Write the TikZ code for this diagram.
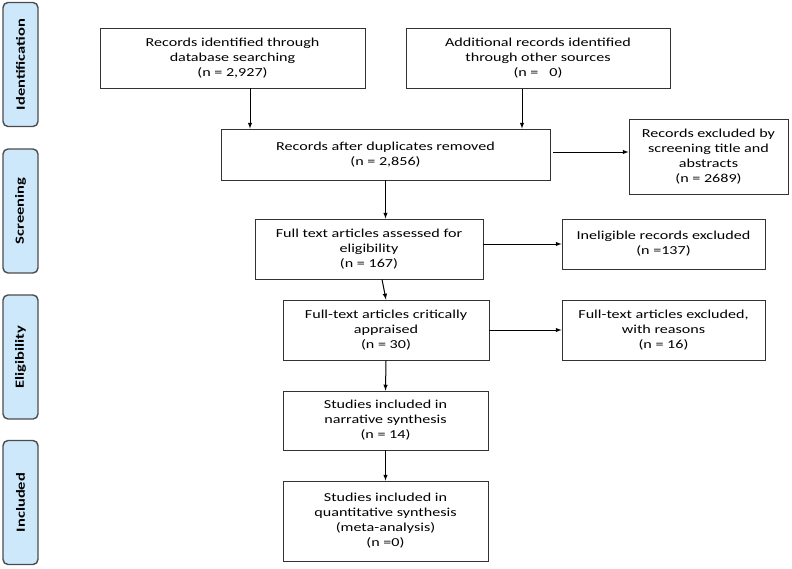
\documentclass[tikz,border=0pt]{standalone}
\usepackage{fontspec}
\setmainfont[FakeStretch=1.32]{Carlito}
\usepackage{tikz}
\usetikzlibrary{arrows,positioning,calc}
\definecolor{phaseblue}{RGB}{205,231,251}

\begin{document}
\begin{tikzpicture}[->,>=latex,x=1pt,y=-1pt,line width=1pt,
  box/.style={rectangle,draw=black!80,line width=0.9pt,fill=white,align=center,
    inner sep=0pt,font=\fontsize{12.2}{15}\selectfont},
  phase/.style={rectangle,rounded corners=5pt,draw=black!70,line width=1.4pt,
    fill=phaseblue,rotate=90,inner sep=0pt,minimum width=124pt,minimum height=35pt,
    font=\fontsize{12.5}{15}\selectfont\bfseries}]
  \useasboundingbox (0,0) rectangle (792,568);

  % phases on the left
  \node[phase] (ident) at (20.5,64.5) {Identification};
  \node[phase] (screen) at (20.5,211) {Screening};
  \node[phase] (elig) at (20.5,357) {Eligibility};
  \node[phase] (incl) at (20.5,502.5) {Included};

  % main column
  \node[box,minimum width=265pt,minimum height=60pt] (db) at (232.5,58) {Records identified through\\database searching\\(n = 2,927)};
  \node[box,minimum width=264pt,minimum height=60pt] (other) at (538,58.5) {Additional records identified\\through other sources\\(n = \ \ 0)};
  \node[box,minimum width=329pt,minimum height=51pt] (dup) at (385.5,154.5) {Records after duplicates removed\\(n = 2,856)};
  \node[box,minimum width=159pt,minimum height=75pt] (excl1) at (708.5,156.5) {Records excluded by\\screening title and\\abstracts\\(n = 2689)};
  \node[box,minimum width=228pt,minimum height=60pt] (full) at (369,249) {Full text articles assessed for\\eligibility\\(n = 167)};
  \node[box,minimum width=203pt,minimum height=50pt] (inelig) at (663.5,244) {Ineligible records excluded\\(n =137)};
  \node[box,minimum width=206pt,minimum height=60pt] (crit) at (386,330) {Full-text articles critically\\appraised\\(n = 30)};
  \node[box,minimum width=203pt,minimum height=60pt] (excl2) at (663.5,330) {Full-text articles excluded,\\with reasons\\(n = 16)};
  \node[box,minimum width=205pt,minimum height=59pt] (narr) at (385.5,420.5) {Studies included in\\narrative synthesis\\(n = 14)};
  \node[box,minimum width=205pt,minimum height=80pt] (quant) at (385.5,521) {Studies included in\\quantitative synthesis\\(meta-analysis)\\(n =0)};

  % arrows
  \draw ([xshift=17.5pt]db.south) -- ([xshift=17.5pt]db.south |- dup.north);
  \draw ([xshift=-16pt]other.south) -- ([xshift=-16pt]other.south |- dup.north);
  \draw[shorten <=3pt] (dup.east |- 0,152) -- (excl1.west |- 0,152);
  \draw (dup.south) -- (dup.south |- full.north);
  \draw (full.east |- inelig.west) -- (inelig.west);
  \draw ([xshift=13pt]full.south) -- (crit.north);
  \draw (crit.east) -- (excl2.west);
  \draw (crit.south) -- (narr.north);
  \draw (narr.south) -- (quant.north);
\end{tikzpicture}
\end{document}
